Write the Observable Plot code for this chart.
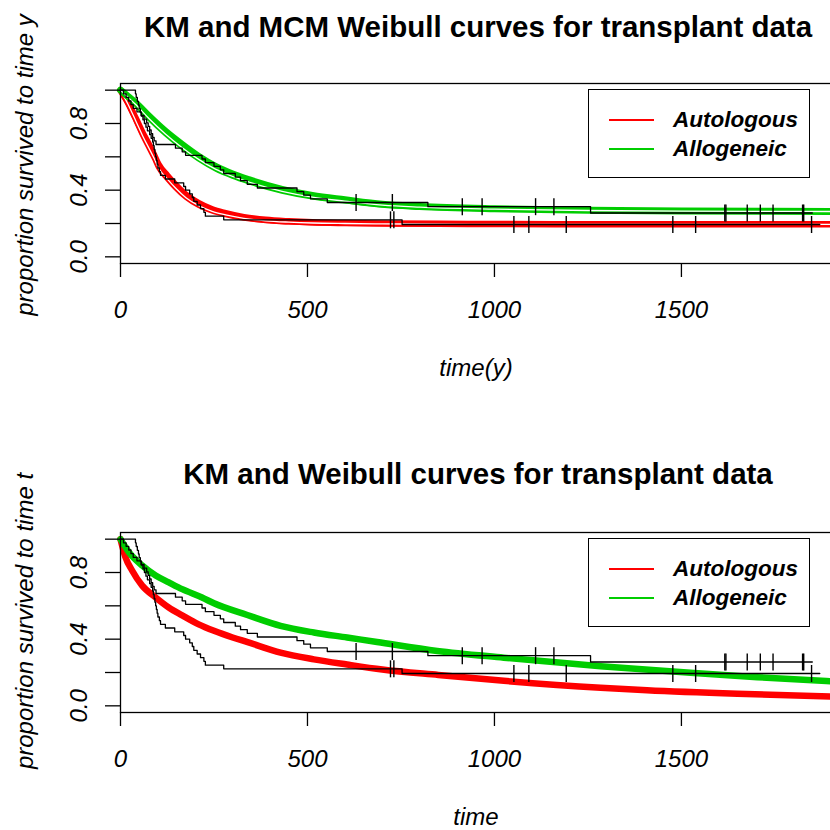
<!DOCTYPE html>
<html>
<head>
<meta charset="utf-8">
<script src="https://cdn.jsdelivr.net/npm/d3@7"></script>
<script src="https://cdn.jsdelivr.net/npm/@observablehq/plot@0.6"></script>
<style>
  html, body { margin: 0; padding: 0; background: #fff; overflow: hidden; }
  #page { position: relative; width: 830px; height: 830px; overflow: hidden;
          font-family: "Liberation Sans", Arial, sans-serif; color: #000; background: #fff; }
  .panel { position: absolute; left: 0; }
  .title { position: absolute; transform: translate(-50%, -50%); font-weight: bold;
           font-size: 29.5px; white-space: nowrap; }
  .xlab { position: absolute; transform: translate(-50%, -50%); font-style: italic;
          font-size: 24px; white-space: nowrap; }
  .ylab { position: absolute; transform: translate(-50%, -50%) rotate(-90deg);
          font-style: italic; font-size: 24px; white-space: nowrap; }
  .legend { position: absolute; background: #fff; border: 1.3px solid #000; box-sizing: border-box; }
  .legend .key { position: absolute; left: 20px; width: 45px; height: 1.6px; margin-top: -0.8px; }
  .legend .lab { position: absolute; left: 84px; transform: translateY(-50%);
                 font-style: italic; font-weight: bold; font-size: 22.5px; white-space: nowrap; }
</style>
</head>
<body>
<div id="page"></div>
<script>
// ---- axis ticks ----
const xTicks = [0, 500, 1000, 1500];
const yTicks = [0, 0.2, 0.4, 0.6, 0.8, 1];
const yLabels = [0, 0.4, 0.8];

// ---- groups ----
const groups = ["Autologous", "Allogeneic"];
const groupColors = ["#ff0000", "#00cd00"];

// ---- Kaplan–Meier step curves (time in days, proportion surviving) ----
const autoKmTime = [0, 40, 42, 45, 48, 50, 53, 56, 60, 64, 68, 72, 78, 82, 86, 88, 90, 92, 94, 96, 98, 100,
  104, 107, 120, 145, 169, 174, 185, 192, 196, 205, 214, 223, 227, 276, 753, 1870];
const autoKmSurv = [1, 0.978, 0.956, 0.933, 0.911, 0.889, 0.867, 0.844, 0.822, 0.8, 0.778, 0.756, 0.733,
  0.711, 0.689, 0.667, 0.644, 0.622, 0.6, 0.578, 0.556, 0.533, 0.511, 0.489, 0.467, 0.444, 0.422, 0.4,
  0.378, 0.356, 0.333, 0.311, 0.289, 0.267, 0.244, 0.222, 0.194, 0.194];
const autoCensor = [722, 731, 1052, 1092, 1192, 1477, 1538, 1848];

const alloKmTime = [0, 8, 15, 22, 28, 34, 44, 55, 63, 70, 74, 78, 82, 86, 90, 95, 147, 165, 174, 218, 227,
  250, 267, 276, 307, 321, 339, 366, 472, 490, 508, 553, 822, 1257, 1850];
const alloKmSurv = [1, 0.978, 0.957, 0.935, 0.913, 0.891, 0.870, 0.848, 0.826, 0.804, 0.783, 0.761, 0.739,
  0.717, 0.696, 0.674, 0.652, 0.630, 0.609, 0.587, 0.565, 0.543, 0.522, 0.5, 0.478, 0.457, 0.435, 0.413,
  0.391, 0.370, 0.348, 0.326, 0.301, 0.263, 0.263];
const alloCensor = [630, 727, 914, 967, 1110, 1159, 1616, 1619, 1676, 1711, 1745, 1824, 1827];

// ---- mixture cure Weibull fits (upper panel) ----
const mcmAutoTime = [0, 20, 40, 60, 76, 90, 102, 125, 147, 175, 209, 245, 281, 330, 388, 450, 513, 600,
  700, 850, 1000, 1300, 1904];
const mcmAutoSurv = [1, 0.925, 0.835, 0.74, 0.674, 0.61, 0.553, 0.488, 0.433, 0.372, 0.322, 0.285, 0.262,
  0.238, 0.222, 0.213, 0.207, 0.203, 0.2, 0.198, 0.197, 0.196, 0.196];
const mcmAutoSurvAlt = [1, 0.915, 0.82, 0.722, 0.652, 0.59, 0.532, 0.468, 0.413, 0.355, 0.307, 0.273,
  0.252, 0.231, 0.216, 0.208, 0.203, 0.2, 0.198, 0.196, 0.195, 0.195, 0.195];

const mcmAlloTime = [0, 20, 40, 76, 120, 165, 209, 254, 300, 343, 432, 513, 600, 700, 800, 1000, 1250,
  1500, 1904];
const mcmAlloSurv = [1, 0.963, 0.926, 0.845, 0.754, 0.674, 0.603, 0.543, 0.497, 0.463, 0.405, 0.368,
  0.342, 0.315, 0.302, 0.288, 0.279, 0.275, 0.272];
const mcmAlloSurvAlt = [1, 0.958, 0.915, 0.83, 0.737, 0.655, 0.585, 0.526, 0.482, 0.449, 0.393, 0.358,
  0.334, 0.31, 0.298, 0.286, 0.278, 0.274, 0.272];

// ---- plain Weibull fits (lower panel) ----
const wbAutoTime = [0, 13, 31, 58, 94, 129, 165, 209, 250, 300, 340, 428, 517, 606, 700, 850, 1025, 1284,
  1408, 1650, 1904];
const wbAutoSurv = [1, 0.893, 0.812, 0.721, 0.65, 0.59, 0.543, 0.489, 0.45, 0.41, 0.382, 0.319, 0.279,
  0.248, 0.218, 0.185, 0.15, 0.108, 0.093, 0.072, 0.056];

const wbAlloTime = [0, 22, 58, 94, 129, 165, 218, 250, 339, 428, 517, 606, 686, 847, 1025, 1284, 1524,
  1703, 1904];
const wbAlloSurv = [1, 0.923, 0.842, 0.782, 0.741, 0.70, 0.65, 0.615, 0.545, 0.48, 0.44, 0.41, 0.383,
  0.329, 0.289, 0.238, 0.198, 0.172, 0.147];

// ---- helpers ----
const rows = (time, surv) => time.map((t, i) => ({t, s: surv[i]}));
function survAt(time, surv, t) {
  let s = surv[0];
  for (let i = 0; i < time.length; i++) if (time[i] <= t) s = surv[i];
  return s;
}
const censorRows = [
  ...autoCensor.map(t => ({t, s: survAt(autoKmTime, autoKmSurv, t)})),
  ...alloCensor.map(t => ({t, s: survAt(alloKmTime, alloKmSurv, t)}))
];
// vertical bar used as the censoring mark
const censorBar = {draw(ctx) { ctx.moveTo(0, -8.5); ctx.lineTo(0, 8.5); }};

const FONT = '"Liberation Sans", Arial, sans-serif';

function solidFit(time, surv, color, width) {
  return Plot.line(rows(time, surv), {x: "t", y: "s", stroke: color, strokeWidth: width, curve: "monotone-x"});
}
function hollowFit(time, surv, color) {
  return [
    Plot.line(rows(time, surv), {x: "t", y: "s", stroke: color, strokeWidth: 4.8, curve: "monotone-x"}),
    Plot.line(rows(time, surv), {x: "t", y: "s", stroke: "#fff", strokeWidth: 1.3, curve: "monotone-x"})
  ];
}

function panel({height, marginTop, marginBottom, fits}) {
  return Plot.plot({
    width: 836, height, marginLeft: 120, marginRight: 4, marginTop, marginBottom,
    style: {fontFamily: FONT, maxWidth: "none", background: "#fff", color: "#000"},
    x: {domain: [0, 1904]},
    y: {domain: [-0.04, 1.04]},
    marks: [
      ...fits,
      Plot.line(rows(autoKmTime, autoKmSurv), {x: "t", y: "s", curve: "step-after", stroke: "#000", strokeWidth: 1.3}),
      Plot.line(rows(alloKmTime, alloKmSurv), {x: "t", y: "s", curve: "step-after", stroke: "#000", strokeWidth: 1.3}),
      Plot.dot(censorRows, {x: "t", y: "s", symbol: censorBar, stroke: "#000", fill: "none", strokeWidth: 1.4}),
      Plot.frame({stroke: "#000", strokeWidth: 1.3}),
      Plot.axisX({ticks: xTicks, tickSize: 14, tickPadding: 23, strokeWidth: 1.3, fontSize: 24,
                  fontStyle: "italic", tickFormat: d => String(d), label: null}),
      Plot.axisY({ticks: yTicks, tickSize: 15, strokeWidth: 1.3, tickFormat: () => "", label: null}),
      Plot.text(yLabels, {y: d => d, text: d => d.toFixed(1), frameAnchor: "left", dx: -41, rotate: -90,
                          textAnchor: "middle", lineAnchor: "middle", fontSize: 24, fontStyle: "italic"})
    ]
  });
}

const page = document.getElementById("page");

const topPlot = panel({
  height: 415, marginTop: 83, marginBottom: 152,
  fits: [
    solidFit(mcmAutoTime, mcmAutoSurv, groupColors[0], 6.5),
    ...hollowFit(mcmAutoTime, mcmAutoSurvAlt, groupColors[0]),
    solidFit(mcmAlloTime, mcmAlloSurv, groupColors[1], 7),
    ...hollowFit(mcmAlloTime, mcmAlloSurvAlt, groupColors[1])
  ]
});
topPlot.classList.add("panel");
topPlot.style.top = "0px";
page.appendChild(topPlot);

const bottomPlot = panel({
  height: 415, marginTop: 117, marginBottom: 118,
  fits: [
    solidFit(wbAutoTime, wbAutoSurv, groupColors[0], 6.5),
    solidFit(wbAlloTime, wbAlloSurv, groupColors[1], 6.5)
  ]
});
bottomPlot.classList.add("panel");
bottomPlot.style.top = "415px";
page.appendChild(bottomPlot);

// ---- titles, axis labels, legends ----
function addText(cls, text, x, y) {
  const d = document.createElement("div");
  d.className = cls;
  d.textContent = text;
  d.style.left = x + "px";
  d.style.top = y + "px";
  page.appendChild(d);
}
addText("title", "KM and MCM Weibull curves for transplant data", 478, 27);
addText("title", "KM and Weibull curves for transplant data", 478, 474);
addText("xlab", "time(y)", 476, 368);
addText("xlab", "time", 476, 817);
addText("ylab", "proportion survived to time y", 25, 165);
addText("ylab", "proportion survived to time t", 25, 621);

function addLegend(top) {
  const box = document.createElement("div");
  box.className = "legend";
  box.style.left = "588px";
  box.style.top = top + "px";
  box.style.width = "222px";
  box.style.height = "89px";
  groups.forEach((g, i) => {
    const y = 30 + i * 29;
    const key = document.createElement("div");
    key.className = "key";
    key.style.top = y + "px";
    key.style.background = groupColors[i];
    box.appendChild(key);
    const lab = document.createElement("div");
    lab.className = "lab";
    lab.style.top = y + "px";
    lab.textContent = g;
    box.appendChild(lab);
  });
  page.appendChild(box);
}
addLegend(89);
addLegend(538);
</script>
</body>
</html>
